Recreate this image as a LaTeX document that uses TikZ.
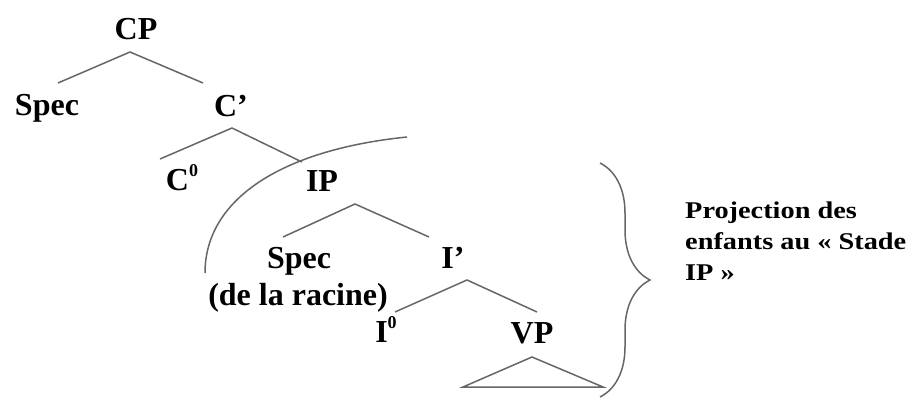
\documentclass[tikz,border=0pt]{standalone}
\usepackage{fontspec}
\setmainfont{Liberation Serif}
\usepackage{graphicx}
\usetikzlibrary{decorations.pathreplacing}
\newcommand{\supz}{\raisebox{0.42em}{\fontsize{18}{18}\selectfont 0}}
\begin{document}
\begin{tikzpicture}[x=1pt,y=-1pt,
  lab/.style={anchor=base,inner sep=0pt,font=\fontsize{32}{37}\selectfont\bfseries},
  branch/.style={draw=black!60,line width=1.5pt},
  note/.style={anchor=north west,inner sep=0pt,align=left,font=\fontsize{24}{31}\selectfont\bfseries}]
\useasboundingbox (0,0) rectangle (911,401);
% labels
\node[lab] (cp) at (136,40) {CP};
\node[lab] (spec1) at (47,116) {Spec};
\node[lab] (cbar) at (231,117) {C’};
\node[lab] (c0) at (182,190) {C\supz};
\node[lab] (ip) at (322,192) {IP};
\node[lab] (spec2) at (299,268) {Spec};
\node[lab] (racine) at (298,305) {(de la racine)};
\node[lab] (ibar) at (453,268) {I’};
\node[lab] (i0) at (386,342) {I\supz};
\node[lab] (vp) at (532,343) {VP};
% branch points
\coordinate (cpA) at (130,52);  \coordinate (cpL) at (58,83);   \coordinate (cpR) at (203,83);
\coordinate (cbA) at (232,128); \coordinate (cbL) at (160,159); \coordinate (cbR) at (302,162);
\coordinate (ipA) at (355,204); \coordinate (ipL) at (283,237); \coordinate (ipR) at (429,237);
\coordinate (ibA) at (467,280); \coordinate (ibL) at (395,312); \coordinate (ibR) at (537,312);
\coordinate (vpA) at (532,357); \coordinate (vpL) at (463,387); \coordinate (vpR) at (603,387);
\draw[branch] (cpL) -- (cpA) -- (cpR);
\draw[branch] (cbL) -- (cbA) -- (cbR);
\draw[branch] (ipL) -- (ipA) -- (ipR);
\draw[branch] (ibL) -- (ibA) -- (ibR);
\draw[branch] (vpL) -- (vpA) -- (vpR) -- cycle;
% arc
\coordinate (arcS) at (205,273); \coordinate (arcE) at (407,137);
\draw[branch] (arcS) .. controls (205,200) and (280,150) .. (arcE);
% brace
\coordinate (brT) at (600,163); \coordinate (brB) at (600,397);
\draw[branch,decorate,decoration={brace,amplitude=50pt}] (brT) -- (brB);
\node[note] (txt) at (685,202) {\scalebox{1.18}[1]{Projection des}\\\scalebox{1.18}[1]{enfants au « Stade}\\\scalebox{1.18}[1]{IP »}};
\end{tikzpicture}
\end{document}
